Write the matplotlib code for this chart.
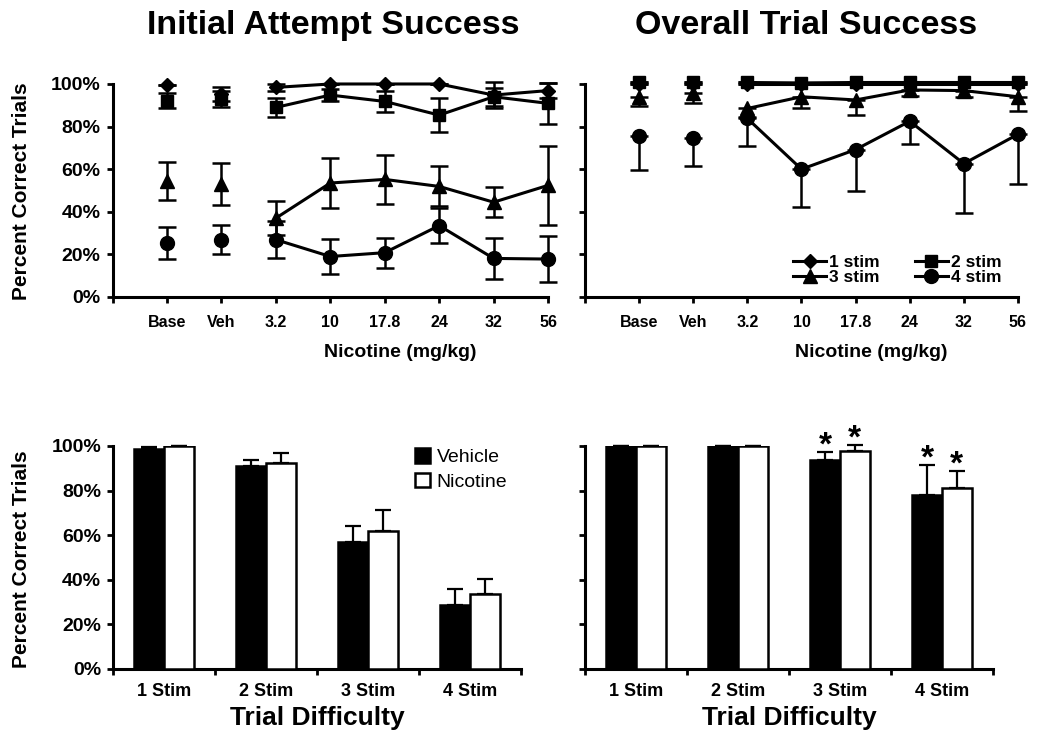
import matplotlib
matplotlib.use('Agg')
import matplotlib.pyplot as plt
from matplotlib.patches import Patch
import numpy as np

plt.rcParams['font.family'] = ['Liberation Sans', 'DejaVu Sans']
plt.rcParams['font.weight'] = 'bold'

# dose conditions (top panels)
doses = ['Base', 'Veh', '3.2', '10', '17.8', '24', '32', '56']

# Initial attempt success, % correct (mean, sem)
ia_1 = [99.7, 95.3, 98.4, 100, 100, 100, 94.8, 96.9]
ia_1_err = [0, 3.4, 1.5, 0, 0, 0, 6.0, 3.5]
ia_2 = [92.1, 92.8, 89.0, 94.8, 91.8, 85.4, 94.0, 90.9]
ia_2_err = [3.5, 3.7, 4.4, 3.0, 5.0, 7.9, 4.2, 9.5]
ia_3 = [54.6, 53.0, 37.0, 53.5, 55.2, 51.9, 44.5, 52.4]
ia_3_err = [8.9, 9.9, 8.0, 11.6, 11.6, 9.4, 7.0, 18.4]
ia_4 = [25.2, 26.9, 26.9, 19.0, 20.8, 33.5, 18.1, 17.8]
ia_4_err = [7.5, 6.9, 8.8, 8.1, 7.0, 8.2, 9.6, 11.0]

# Overall trial success
ot_1 = [100, 100, 100, 100, 100, 100, 100, 100]
ot_1_err = [0, 0, 0, 0, 0, 0, 0, 0]
ot_2 = [100.7, 100.7, 100.7, 100.5, 100.7, 100.7, 100.7, 100.7]
ot_2_err = [0, 0, 0, 0, 0, 0, 0, 0]
ot_3 = [93.7, 95.6, 88.5, 94.0, 92.5, 97.2, 96.9, 94.0]
ot_3_err = [3.9, 4.7, 4.0, 5.5, 7.1, 3.0, 3.0, 6.6]
ot_4 = [75.6, 74.5, 83.8, 60.0, 69.2, 82.5, 62.6, 76.4]
ot_4_err = [16.2, 12.9, 13.0, 17.9, 19.5, 10.8, 23.1, 23.3]

# bottom panels
stims = ['1 Stim', '2 Stim', '3 Stim', '4 Stim']
ia_veh = [98.5, 91.0, 57.0, 28.8]
ia_veh_err = [1.2, 2.7, 7.3, 7.2]
ia_nic = [100, 92.5, 61.8, 33.7]
ia_nic_err = [0, 4.2, 9.7, 6.7]
ot_veh = [100, 100, 93.7, 78.0]
ot_veh_err = [0, 0, 3.6, 13.5]
ot_nic = [100, 100, 97.6, 81.1]
ot_nic_err = [0, 0, 2.9, 7.8]
ot_sig = [False, False, True, True]

stim_labels = ['1 stim', '2 stim', '3 stim', '4 stim']
markers = ['D', 's', '^', 'o']
msizes = [7, 8.5, 10.5, 10]

fig = plt.figure(figsize=(10.38, 7.38), dpi=100)
ax1 = fig.add_axes([0.1084, 0.5976, 0.4196, 0.2886])
ax2 = fig.add_axes([0.5636, 0.5976, 0.4171, 0.2886])
ax3 = fig.add_axes([0.1089, 0.0935, 0.3931, 0.3022])
ax4 = fig.add_axes([0.5636, 0.0935, 0.3931, 0.3022])


def style_axes(ax, ylabels):
    for side in ['top', 'right']:
        ax.spines[side].set_visible(False)
    for side in ['left', 'bottom']:
        ax.spines[side].set_linewidth(2.2)
    ax.set_ylim(0, 100)
    ax.set_yticks([0, 20, 40, 60, 80, 100])
    if ylabels:
        ax.set_yticklabels(['0%', '20%', '40%', '60%', '80%', '100%'], fontsize=14, fontweight='bold')
    else:
        ax.set_yticklabels([])
    ax.tick_params(axis='y', direction='out', length=4.5, width=2, pad=4)


def line_panel(ax, series, errs, one_sided, ylabels):
    x = np.arange(1, len(doses) + 1)
    handles = []
    for vals, err, m, ms, lab in zip(series, errs, markers, msizes, stim_labels):
        vals = np.array(vals, dtype=float)
        err = np.array(err, dtype=float)
        if one_sided:
            yerr = [err, np.zeros_like(err)]
        else:
            yerr = err
        ax.errorbar(x, vals, yerr=yerr, fmt='none', ecolor='black', elinewidth=1.8,
                    capsize=6.5, capthick=1.8, clip_on=False, zorder=2)
        ax.plot(x[2:], vals[2:], color='black', lw=2.2, zorder=3, clip_on=False)
        ax.plot(x, vals, ls='none', marker=m, ms=ms, color='black', zorder=4, clip_on=False)
        h, = ax.plot([], [], color='black', lw=2.2, marker=m, ms=ms)
        handles.append(h)
    style_axes(ax, ylabels)
    ax.set_xlim(0, 8)
    ax.set_xticks(np.arange(0, 9))
    ax.set_xticklabels([''] + doses, fontsize=11.5, fontweight='bold')
    ax.tick_params(axis='x', direction='out', length=4.5, width=2, pad=8.5)
    ax.text(0.66, -0.28, 'Nicotine (mg/kg)', transform=ax.transAxes, ha='center', va='baseline',
            fontsize=14, fontweight='bold')
    return handles


def bar_panel(ax, veh, veh_err, nic, nic_err, ylabels, sig=None):
    x = np.arange(len(stims))
    w = 0.29
    ax.bar(x - w / 2, veh, w, color='black', edgecolor='black', lw=1.8, zorder=3)
    ax.bar(x + w / 2, nic, w, color='white', edgecolor='black', lw=1.8, zorder=3)
    ax.errorbar(x - w / 2, veh, yerr=[np.zeros(len(veh)), veh_err], fmt='none', ecolor='black',
                elinewidth=1.6, capsize=6, capthick=1.6, zorder=2, clip_on=False)
    ax.errorbar(x + w / 2, nic, yerr=[np.zeros(len(nic)), nic_err], fmt='none', ecolor='black',
                elinewidth=1.6, capsize=6, capthick=1.6, zorder=2, clip_on=False)
    if sig is not None:
        for i, s in enumerate(sig):
            if s:
                ax.text(x[i] - w / 2, veh[i] + veh_err[i] + 2.5, '*', ha='center', va='center',
                        fontsize=24, fontweight='bold')
                ax.text(x[i] + w / 2, nic[i] + nic_err[i] + 2.5, '*', ha='center', va='center',
                        fontsize=24, fontweight='bold')
    style_axes(ax, ylabels)
    ax.set_xlim(-0.5, len(stims) - 0.5)
    ax.set_xticks(x)
    ax.set_xticklabels(stims, fontsize=13, fontweight='bold')
    ax.set_xticks(np.arange(-0.5, len(stims)), minor=True)
    ax.tick_params(axis='x', which='major', length=0, pad=10)
    ax.tick_params(axis='x', which='minor', direction='out', length=4.5, width=2)
    ax.text(0.5, -0.25, 'Trial Difficulty', transform=ax.transAxes, ha='center', va='baseline',
            fontsize=19, fontweight='bold')


line_panel(ax1, [ia_1, ia_2, ia_3, ia_4], [ia_1_err, ia_2_err, ia_3_err, ia_4_err], False, True)
handles = line_panel(ax2, [ot_1, ot_2, ot_3, ot_4], [ot_1_err, ot_2_err, ot_3_err, ot_4_err], True, False)
order = [0, 2, 1, 3]
ax2.legend([handles[i] for i in order], [stim_labels[i] for i in order], ncol=2, frameon=False,
           loc='lower right', bbox_to_anchor=(0.995, -0.01), prop={'weight': 'bold', 'size': 12.5},
           handlelength=1.9, columnspacing=2.0, labelspacing=0.0, handletextpad=0.2,
           borderpad=0.3)

bar_panel(ax3, ia_veh, ia_veh_err, ia_nic, ia_nic_err, True)
bar_panel(ax4, ot_veh, ot_veh_err, ot_nic, ot_nic_err, False, ot_sig)

ax3.legend([Patch(facecolor='black', edgecolor='black', lw=1.8),
            Patch(facecolor='white', edgecolor='black', lw=1.8)],
           ['Vehicle', 'Nicotine'], frameon=False, loc='upper right', bbox_to_anchor=(1.0, 1.05),
           prop={'weight': 'normal', 'size': 14}, handlelength=0.75, handleheight=0.75,
           handletextpad=0.35, labelspacing=0.35, borderpad=0.2)

fig.text(22 / 1038, 1 - 191 / 738, 'Percent Correct Trials', rotation=90, ha='center', va='center',
         fontsize=15, fontweight='bold')
fig.text(22 / 1038, 1 - 559 / 738, 'Percent Correct Trials', rotation=90, ha='center', va='center',
         fontsize=15, fontweight='bold')

fig.text(333 / 1038, 1 - 34 / 738, 'Initial Attempt Success', ha='center', va='baseline',
         fontsize=24.5, fontweight='bold')
fig.text(806 / 1038, 1 - 34 / 738, 'Overall Trial Success', ha='center', va='baseline',
         fontsize=24.5, fontweight='bold')

fig.savefig('out.png', dpi=100)
